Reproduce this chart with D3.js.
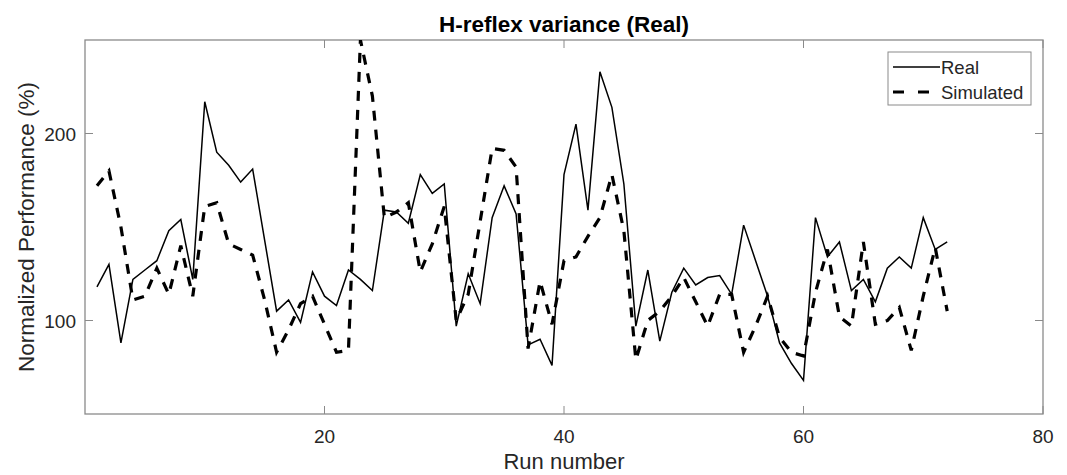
<!DOCTYPE html>
<html>
<head>
<meta charset="utf-8">
<script src="https://cdn.jsdelivr.net/npm/d3@7"></script>
<style>
  body { margin: 0; background: #fff; }
  svg { display: block; font-family: "Liberation Sans", Arial, Helvetica, sans-serif; }
</style>
</head>
<body>
<svg id="chart" width="1067" height="475"></svg>
<script>
// run numbers 1..72
var runs = [1,2,3,4,5,6,7,8,9,10,11,12,13,14,15,16,17,18,19,20,21,22,23,24,25,26,27,28,29,30,31,32,33,34,35,36,
	37,38,39,40,41,42,43,44,45,46,47,48,49,50,51,52,53,54,55,56,57,58,59,60,61,62,63,64,65,66,67,68,69,70,71,72];

var realVals = [118,130,88,122,127,132,148,154,122,217,190,183,174,181,143,105,111,99,126,113,108,127,122,116,
	159,158,152,178,168,173,97,125,109,155,172,157,87,90,76,178,205,159,233,214,173,97,127,89,115,128,119,123,124,114,
	151,132,113,88,77,68,155,134,142,116,122,110,128,134,128,155,138,142];

var simVals = [172,180,150,111,113,128,114,140,113,161,163,141,138,135,111,83,95,109,113,98,83,84,250,220,
	155,158,163,126,141,161,100,114,153,192,191,182,85,121,98,132,134,145,155,178,148,79,100,105,113,123,110,97,114,114,
	83,97,113,91,83,81,115,138,102,97,142,98,100,107,84,113,139,105];

var xTicks = [20,40,60,80];
var yTicks = [100,200];
var seriesNames = ["Real","Simulated"];

var svg = d3.select("#chart");
var margin = {left:85, top:40, right:24, bottom:61};
var width = 1067, height = 475;

var x = d3.scaleLinear().domain([0,80]).range([margin.left, width - margin.right]);
var y = d3.scaleLinear().domain([50,250]).range([height - margin.bottom, margin.top]);

var axisColor = "#8a8a8a", textColor = "#262626";

svg.append("defs").append("clipPath").attr("id","plotClip")
	.append("rect")
	.attr("x", x(0)).attr("y", y(250))
	.attr("width", x(80)-x(0)).attr("height", y(50)-y(250));

// box
svg.append("rect")
	.attr("x", x(0)).attr("y", y(250))
	.attr("width", x(80)-x(0)).attr("height", y(50)-y(250))
	.attr("fill","none").attr("stroke",axisColor).attr("stroke-width",1.3);

// ticks (inward, on both sides like MATLAB)
var tk = 8;
xTicks.forEach(function(t){
	svg.append("line").attr("x1",x(t)).attr("x2",x(t)).attr("y1",y(50)).attr("y2",y(50)-tk)
		.attr("stroke",axisColor).attr("stroke-width",1);
	svg.append("line").attr("x1",x(t)).attr("x2",x(t)).attr("y1",y(250)).attr("y2",y(250)+tk)
		.attr("stroke",axisColor).attr("stroke-width",1);
	svg.append("text").attr("x",x(t)).attr("y",y(50)+29)
		.attr("text-anchor","middle").attr("font-size",19).attr("fill",textColor).text(t);
});
yTicks.forEach(function(t){
	svg.append("line").attr("x1",x(0)).attr("x2",x(0)+tk).attr("y1",y(t)).attr("y2",y(t))
		.attr("stroke",axisColor).attr("stroke-width",1);
	svg.append("line").attr("x1",x(80)).attr("x2",x(80)-tk).attr("y1",y(t)).attr("y2",y(t))
		.attr("stroke",axisColor).attr("stroke-width",1);
	svg.append("text").attr("x",x(0)-9).attr("y",y(t)+7)
		.attr("text-anchor","end").attr("font-size",19).attr("fill",textColor).text(t);
});

// labels
svg.append("text").attr("x",(x(0)+x(80))/2).attr("y",32)
	.attr("text-anchor","middle").attr("font-size",22.5).attr("font-weight","bold")
	.attr("fill","#000").text("H-reflex variance (Real)");
svg.append("text").attr("x",(x(0)+x(80))/2).attr("y",469)
	.attr("text-anchor","middle").attr("font-size",22).attr("fill",textColor).text("Run number");
svg.append("text")
	.attr("transform","translate(34," + ((y(50)+y(250))/2) + ") rotate(-90)")
	.attr("text-anchor","middle").attr("font-size",22.5).attr("fill",textColor)
	.text("Normalized Performance (%)");

// lines
var line = d3.line().x(function(d){return x(d[0]);}).y(function(d){return y(d[1]);});
var g = svg.append("g").attr("clip-path","url(#plotClip)");

g.append("path").datum(d3.zip(runs, realVals))
	.attr("d", line).attr("fill","none").attr("stroke","#000").attr("stroke-width",1.5)
	.attr("stroke-linejoin","miter");
g.append("path").datum(d3.zip(runs, simVals))
	.attr("d", line).attr("fill","none").attr("stroke","#000").attr("stroke-width",3.2)
	.attr("stroke-dasharray","10,9");

// legend
var lg = svg.append("g").attr("transform","translate(888,52)");
lg.append("rect").attr("width",143).attr("height",53)
	.attr("fill","#fff").attr("stroke",axisColor).attr("stroke-width",1);
lg.append("line").attr("x1",5).attr("x2",52).attr("y1",15).attr("y2",15)
	.attr("stroke","#000").attr("stroke-width",1.5);
lg.append("line").attr("x1",5).attr("x2",52).attr("y1",40).attr("y2",40)
	.attr("stroke","#000").attr("stroke-width",3.2).attr("stroke-dasharray","11,14");
lg.append("text").attr("x",53).attr("y",21.5).attr("font-size",18.5).attr("fill",textColor).text(seriesNames[0]);
lg.append("text").attr("x",53).attr("y",46.5).attr("font-size",18.5).attr("fill",textColor).text(seriesNames[1]);
</script>
</body>
</html>
